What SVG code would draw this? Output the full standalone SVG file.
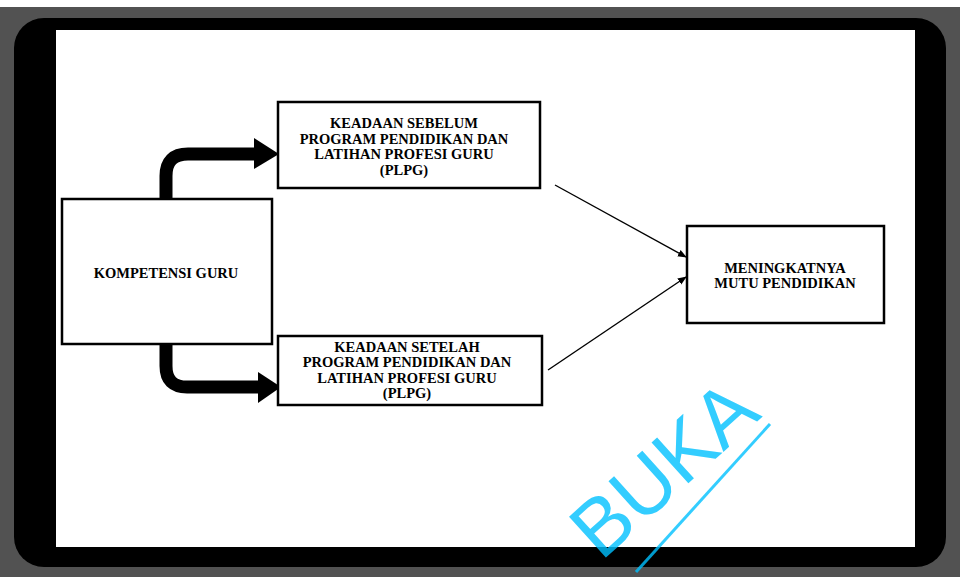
<svg xmlns="http://www.w3.org/2000/svg" width="960" height="577" viewBox="0 0 960 577">
<defs>
<style>
.box{fill:#fff;stroke:#000;stroke-width:2.5}
.t{font-family:"Liberation Serif","Times New Roman",serif;font-weight:bold;font-size:14.5px;fill:#000;text-anchor:middle}
.thick{fill:none;stroke:#000;stroke-width:13}
.thin{fill:none;stroke:#000;stroke-width:1.4}
.wm{font-family:"Liberation Sans",Arial,sans-serif;font-size:80px;fill:#00c0ff;fill-opacity:0.8}
</style>
<marker id="ah" viewBox="0 0 10 10" refX="9" refY="5" markerWidth="9" markerHeight="9" markerUnits="userSpaceOnUse" orient="auto">
<path d="M0,1 L10,5 L0,9 z" fill="#000"/>
</marker>
</defs>
<rect x="0" y="0" width="960" height="577" fill="#fff"/>
<rect x="0" y="7" width="960" height="570" fill="#525252"/>
<rect x="14" y="18" width="932" height="549" rx="30" fill="#000"/>
<rect x="56" y="30" width="859" height="517" fill="#fff"/>

<g id="connectors">
<path class="thick" d="M166,199 V176 Q166,154 188,154 H257"/>
<polygon points="254,138 279,154 254,169" fill="#000"/>
<path class="thick" d="M166,344 V366 Q166,387 187,387 H260"/>
<polygon points="258,372 281,387 258,403" fill="#000"/>
<line class="thin" x1="555" y1="185" x2="686" y2="257" marker-end="url(#ah)"/>
<line class="thin" x1="548" y1="370" x2="686" y2="277" marker-end="url(#ah)"/>
</g>

<g id="kompetensi">
<rect class="box" x="62" y="199" width="210" height="145"/>
<text class="t" x="166" y="278">KOMPETENSI GURU</text>
</g>

<g id="sebelum">
<rect class="box" x="278" y="102" width="262" height="86"/>
<text class="t" x="404" y="128">KEADAAN SEBELUM</text>
<text class="t" x="404" y="144">PROGRAM PENDIDIKAN DAN</text>
<text class="t" x="404" y="159">LATIHAN PROFESI GURU</text>
<text class="t" x="404" y="175">(PLPG)</text>
</g>

<g id="setelah">
<rect class="box" x="278" y="336" width="264" height="69"/>
<text class="t" x="407" y="352">KEADAAN SETELAH</text>
<text class="t" x="407" y="367">PROGRAM PENDIDIKAN DAN</text>
<text class="t" x="407" y="383">LATIHAN PROFESI GURU</text>
<text class="t" x="407" y="398">(PLPG)</text>
</g>

<g id="mutu">
<rect class="box" x="687" y="226" width="197" height="97"/>
<text class="t" x="785" y="273">MENINGKATNYA</text>
<text class="t" x="785" y="288">MUTU PENDIDIKAN</text>
</g>

<g id="watermark">
<text class="wm" transform="translate(601,562) rotate(-42)">BUKA</text>
<line x1="770" y1="424" x2="636" y2="572" stroke="#00c0ff" stroke-opacity="0.8" stroke-width="3"/>
</g>
</svg>
